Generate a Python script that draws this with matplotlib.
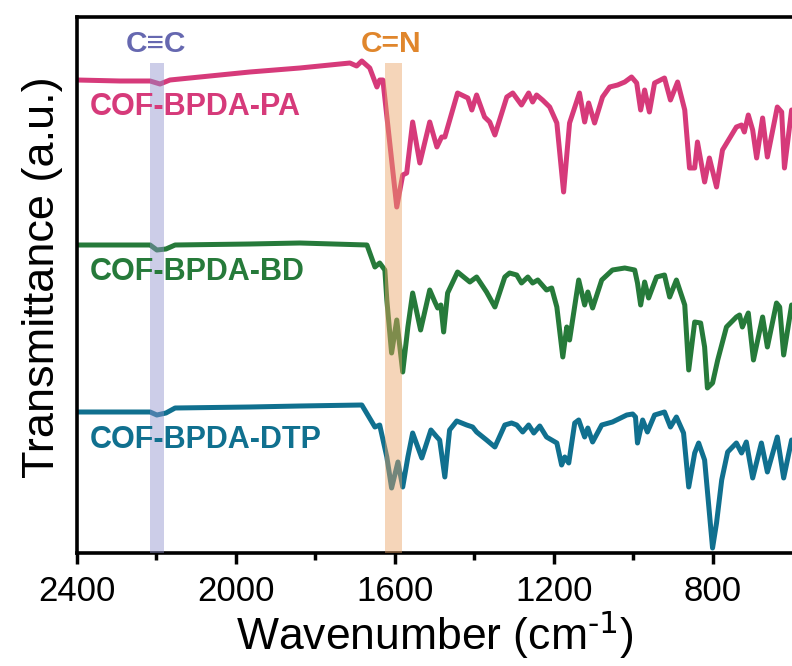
import matplotlib
matplotlib.use("Agg")
import matplotlib.pyplot as plt
import numpy as np

plt.rcParams['font.family'] = ['Liberation Sans', 'DejaVu Sans']

# ---- data (wavenumber cm^-1, transmittance a.u. with vertical offsets) ----
pa_wn = [2400, 2292, 2216, 2191, 2166, 1965, 1839, 1713, 1696, 1683, 1663, 1645, 1638, 1630,
         1595, 1580, 1570, 1555, 1537, 1512, 1494, 1482, 1474, 1442, 1416, 1406, 1394, 1374,
         1361, 1348, 1318, 1303, 1281, 1263, 1253, 1243, 1228, 1210, 1192, 1175, 1160, 1135,
         1122, 1112, 1097, 1077, 1059, 1039, 1021, 1004, 991, 981, 971, 959, 946, 921, 906,
         888, 870, 858, 845, 838, 820, 808, 790, 775, 740, 727, 720, 710, 699, 689, 674, 662,
         637, 626, 619, 601]
pa_t = [473, 472, 472, 469, 473, 481, 485, 490, 487, 492, 485, 466, 473, 473,
        346, 378, 380, 431, 390, 431, 406, 416, 416, 460, 455, 443, 458, 436,
        431, 418, 456, 460, 448, 460, 451, 458, 453, 446, 430, 361, 430, 460,
        431, 450, 430, 456, 466, 468, 471, 476, 470, 443, 463, 441, 470, 475, 453,
        471, 443, 385, 385, 411, 371, 395, 366, 403, 426, 428, 421, 438, 423, 395, 435, 396,
        446, 441, 385, 443]

bd_wn = [2400, 2216, 2199, 2176, 2153, 1965, 1839, 1670, 1650, 1638, 1625, 1620, 1608, 1595,
         1580, 1567, 1555, 1535, 1512, 1499, 1492, 1484, 1477, 1467, 1442, 1411, 1394, 1369,
         1348, 1323, 1311, 1293, 1281, 1265, 1253, 1240, 1218, 1205, 1192, 1177, 1167, 1160,
         1137, 1122, 1114, 1102, 1079, 1052, 1021, 996, 989, 981, 971, 961, 941, 921, 908,
         891, 870, 860, 845, 830, 820, 813, 800, 787, 765, 740, 732, 725, 710, 697, 674, 662,
         639, 631, 621, 601]
bd_t = [308, 308, 303, 304, 308, 309, 310, 308, 286, 290, 283, 253, 200, 233,
        181, 226, 260, 223, 263, 251, 245, 248, 221, 260, 281, 271, 276, 261,
        246, 276, 280, 278, 270, 276, 270, 273, 263, 265, 246, 196, 226, 213,
        273, 248, 261, 245, 273, 283, 285, 283, 270, 248, 271, 255, 276, 278, 256,
        273, 248, 183, 231, 230, 206, 165, 170, 193, 226, 236, 238, 226, 240, 193, 236, 206,
        250, 246, 198, 248]

dtp_wn = [2400, 2216, 2199, 2176, 2153, 1965, 1839, 1683, 1650, 1638, 1620, 1608, 1592, 1580,
          1567, 1555, 1532, 1509, 1494, 1487, 1474, 1462, 1444, 1419, 1404, 1394, 1369, 1348,
          1323, 1306, 1293, 1278, 1263, 1250, 1235, 1218, 1205, 1192, 1180, 1172, 1162, 1147,
          1137, 1122, 1114, 1102, 1079, 1052, 1016, 1001, 994, 989, 976, 964, 946, 921, 906,
          891, 873, 860, 845, 835, 820, 800, 790, 777, 762, 740, 727, 715, 699, 677, 662, 637,
          621, 601]
dtp_t = [141, 141, 138, 140, 145, 146, 147, 148, 126, 128, 96, 65, 91, 66,
         96, 120, 95, 123, 116, 113, 76, 123, 132, 128, 126, 121, 113, 106,
         128, 130, 128, 121, 128, 120, 127, 116, 113, 110, 88, 96, 90, 130,
         133, 116, 125, 111, 128, 131, 138, 139, 136, 110, 133, 121, 138, 141, 126,
         136, 120, 66, 100, 110, 93, 5, 30, 73, 101, 110, 100, 111, 75, 110, 81, 116,
         75, 113]

series_names = ["COF-BPDA-PA", "COF-BPDA-BD", "COF-BPDA-DTP"]
label_y = [446, 281, 113]
band_ranges = [(2180, 2215), (1582, 1625)]
band_names = ["C\u2261C", "C=N"]

colors = ["#d63a7a", "#267a3a", "#10708f"]
band_colors = ["#8f92cc", "#eaa364"]
band_text_colors = ["#6668b0", "#e0862c"]

fig = plt.figure(figsize=(7.92, 6.66), dpi=100)
ax = fig.add_axes([77/792, 113/666, 715/792, 536/666])

for wn, t, c in zip([pa_wn, bd_wn, dtp_wn], [pa_t, bd_t, dtp_t], colors):
    ax.plot(wn, t, color=c, lw=3.6, solid_joinstyle='round', solid_capstyle='round', zorder=2)

band_top = 490
for (lo, hi), bc in zip(band_ranges, band_colors):
    ax.axvspan(lo, hi, ymin=0, ymax=band_top/536, color=bc, alpha=0.45, lw=0, zorder=3)

for name, y, c in zip(series_names, label_y, colors):
    ax.text(2367, y, name, color=c, fontsize=22, fontweight='bold', va='center', ha='left')

for (lo, hi), name, c in zip(band_ranges, band_names, band_text_colors):
    ax.text((lo + hi) / 2 + 5, 509, name, color=c, fontsize=21.5, fontweight='bold',
            va='center', ha='center')

ax.set_xlim(2400, 600)
ax.set_ylim(0, 536)
ax.set_xticks([2400, 2000, 1600, 1200, 800])
ax.set_xticks([2200, 1800, 1400, 1000], minor=True)
ax.set_yticks([])
ax.tick_params(axis='x', which='major', direction='out', length=8, width=2.5, labelsize=25, pad=8)
ax.tick_params(axis='x', which='minor', direction='out', length=5, width=2.5)
for s in ['left', 'top', 'bottom']:
    ax.spines[s].set_linewidth(2.6)
ax.spines['right'].set_visible(False)

ax.set_xlabel("Wavenumber (cm$^{\\text{-}1}$)", fontsize=32, labelpad=0)
ax.set_ylabel("Transmittance (a.u.)", fontsize=32.5)
ax.yaxis.set_label_coords(-0.02, 0.515)

fig.savefig("out.png", dpi=100)
